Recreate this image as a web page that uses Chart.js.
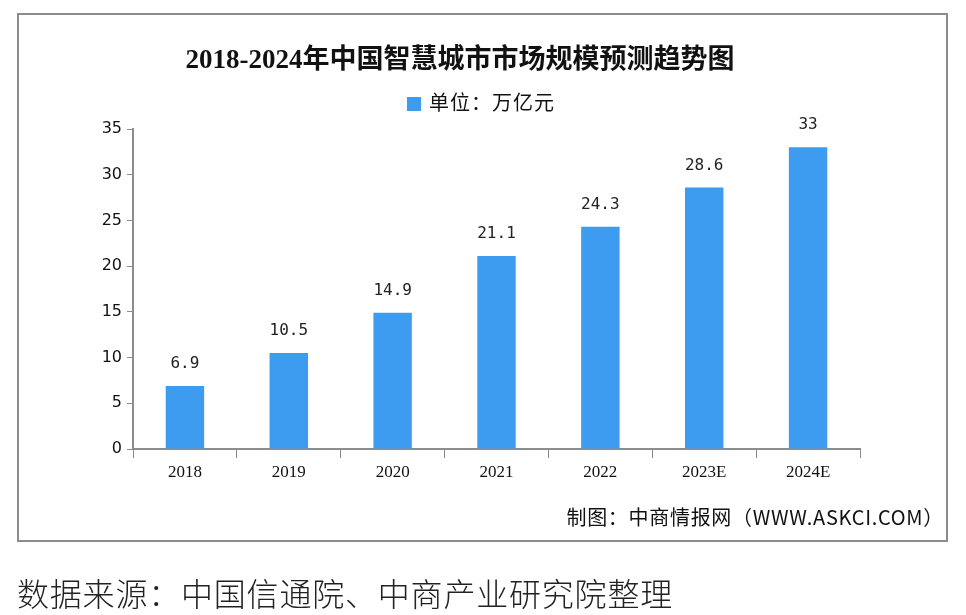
<!DOCTYPE html>
<html>
<head>
<meta charset="utf-8">
<script src="https://cdn.jsdelivr.net/npm/chart.js@4.4.0/dist/chart.umd.min.js"></script>
<style>
    body { margin: 0; background: #fff; width: 966px; height: 615px; position: relative; overflow: hidden; }
    #frame { position: absolute; left: 17px; top: 13px; width: 927px; height: 525px; border: 2px solid #8c8c8c; }
    #chart { position: absolute; left: 0; top: 0; }
    .txt { position: absolute; white-space: nowrap; color: #111; }
    #title { left: 0; width: 920px; top: 37px; text-align: center; font: bold 27px "Liberation Serif", "Noto Sans CJK SC", serif; }
    #legend { left: 407px; top: 87px; font: 20px "Noto Sans CJK SC", sans-serif; letter-spacing: 1px; }
    #legend i { display: inline-block; width: 14px; height: 14px; background: #3d9cf0; margin-right: 8px; vertical-align: -1px; }
    #maker { right: 22px; top: 502px; font: 20px "Noto Sans CJK SC", sans-serif; letter-spacing: 0.7px; }
    #source { left: 17px; top: 569px; font: 300 32px "Noto Sans CJK SC", sans-serif; color: #222; letter-spacing: 0.8px; }
</style>
</head>
<body>
<div id="frame"></div>
<canvas id="chart" width="966" height="615"></canvas>
<div class="txt" id="title">2018-2024年中国智慧城市市场规模预测趋势图</div>
<div class="txt" id="legend"><i></i>单位：万亿元</div>
<div class="txt" id="maker">制图：中商情报网（WWW.ASKCI.COM）</div>
<div class="txt" id="source">数据来源：中国信通院、中商产业研究院整理</div>

<script>
'use strict';

const years = ['2018', '2019', '2020', '2021', '2022', '2023E', '2024E'];
const marketSize = [6.9, 10.5, 14.9, 21.1, 24.3, 28.6, 33];
const yTicks = [0, 5, 10, 15, 20, 25, 30, 35];

const axisGray = '#8c8c8c';

// value labels above each bar
const valueLabels = {
    id: 'valueLabels',
    afterDatasetsDraw(chart) {
        const ctx = chart.ctx;
        const meta = chart.getDatasetMeta(0);
        ctx.save();
        ctx.font = '16px "DejaVu Sans Mono", monospace';
        ctx.fillStyle = '#222';
        ctx.textAlign = 'center';
        ctx.textBaseline = 'middle';
        meta.data.forEach((bar, i) => {
            ctx.fillText(String(marketSize[i]), bar.x, bar.y - 22);
        });
        ctx.restore();
    }
};

new Chart(document.getElementById('chart'), {
    type: 'bar',
    data: {
        labels: years,
        datasets: [{
            label: '单位：万亿元',
            data: marketSize,
            backgroundColor: '#3d9cf0',
            categoryPercentage: 1,
            barPercentage: 0.37
        }]
    },
    options: {
        responsive: false,
        animation: false,
        layout: { padding: { left: 60, right: 106, top: 129, bottom: 126 } },
        plugins: {
            legend: { display: false },
            title: { display: false },
            tooltip: { enabled: false }
        },
        scales: {
            x: {
                afterFit(scale) { scale.height = 40; },
                grid: { drawOnChartArea: false, offset: true, tickLength: 9, color: axisGray, tickColor: axisGray },
                border: { color: axisGray, width: 2 },
                ticks: { color: '#111', padding: 4, font: { family: '"Liberation Serif", serif', size: 17 } }
            },
            y: {
                min: 0,
                max: 35,
                afterFit(scale) { scale.width = 73; },
                afterBuildTicks(scale) { scale.ticks = yTicks.map(v => ({ value: v })); },
                grid: { drawOnChartArea: false, tickLength: 6, color: axisGray, tickColor: axisGray },
                border: { color: axisGray, width: 2 },
                ticks: { color: '#111', padding: 5, font: { family: '"DejaVu Sans", sans-serif', size: 16 } }
            }
        }
    },
    plugins: [valueLabels]
});
</script>
</body>
</html>
